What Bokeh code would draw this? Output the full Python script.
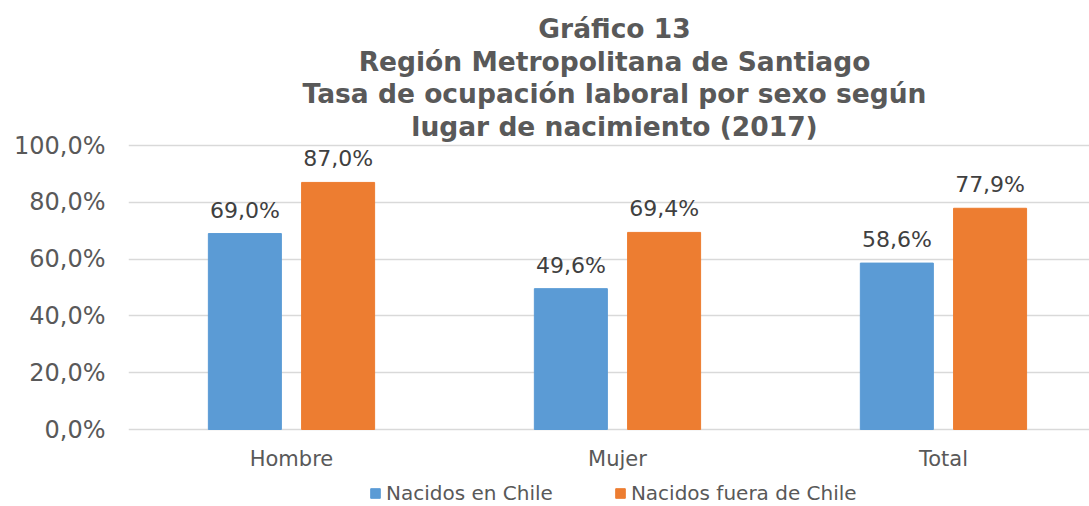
from bokeh.plotting import figure
from bokeh.models import ColumnDataSource, FixedTicker, Legend, LegendItem, Label, Range1d
from bokeh.transform import dodge
from bokeh.embed import file_html
from bokeh.resources import INLINE
from bokeh.core.properties import value

categories = ["Hombre", "Mujer", "Total"]
chile = [69.0, 49.6, 58.6]
fuera = [87.0, 69.4, 77.9]
series_names = ["Nacidos en Chile", "Nacidos fuera de Chile"]
y_ticks = [0, 20, 40, 60, 80, 100]
y_tick_labels = ["0,0%", "20,0%", "40,0%", "60,0%", "80,0%", "100,0%"]
title_lines = ["Gráfico 13", "Región Metropolitana de Santiago",
               "Tasa de ocupación laboral por sexo según", "lugar de nacimiento (2017)"]

BLUE = "#5B9BD5"
ORANGE = "#ED7D31"
FONT = "DejaVu Sans"


def fmt(v):
    return f"{v:.1f}".replace(".", ",") + "%"


xpos = [i + 0.5 for i in range(len(categories))]
source = ColumnDataSource(dict(
    x=xpos,
    chile=chile,
    fuera=fuera,
    chile_lab=[fmt(v) for v in chile],
    fuera_lab=[fmt(v) for v in fuera],
))

# The plotting frame spans the full height so that title and legend can sit in it;
# the y range extends beyond 0-100 to leave room for them.
p = figure(frame_width=961, frame_height=506, output_backend="svg", toolbar_location=None,
           x_range=Range1d(0, 2.948), y_range=Range1d(-27.11, 151.06),
           min_border_left=128, min_border_right=0, min_border_top=0, min_border_bottom=0)
p.outline_line_color = None
p.background_fill_color = "white"
p.border_fill_color = "white"

# title (multi-line, centred above the plot area)
for i, line in enumerate(title_lines):
    p.add_layout(Label(x=486, y=478 - 32.5 * i, x_units="screen", y_units="screen",
                       text=line, text_align="center", text_baseline="middle",
                       text_font=FONT, text_font_size="26.5px", text_font_style="bold",
                       text_color="#595959"))

off = 0.143
bw = 0.224
r1 = p.vbar(x=dodge("x", -off), top="chile", width=bw, source=source,
            fill_color=BLUE, line_color=BLUE)
r2 = p.vbar(x=dodge("x", off), top="fuera", width=bw, source=source,
            fill_color=ORANGE, line_color=ORANGE)

for col, lab, dx in (("chile", "chile_lab", -off), ("fuera", "fuera_lab", off)):
    p.text(x=dodge("x", dx), y=col, text=lab, source=source, text_align="center",
           text_baseline="middle", y_offset=-23.5, text_font=value(FONT),
           text_font_size="22px", text_color="#404040")

# axes
p.xaxis.fixed_location = 0
p.xaxis.ticker = FixedTicker(ticks=xpos)
p.xaxis.major_label_overrides = {x: c for x, c in zip(xpos, categories)}
p.xaxis.axis_line_color = None
p.xaxis.major_tick_line_color = None
p.xaxis.minor_tick_line_color = None
p.xaxis.major_tick_out = 0
p.xaxis.major_tick_in = 0
p.xaxis.major_label_standoff = 17
p.xaxis.major_label_text_font = FONT
p.xaxis.major_label_text_font_size = "21px"
p.xaxis.major_label_text_color = "#595959"

p.yaxis.ticker = FixedTicker(ticks=y_ticks)
p.yaxis.major_label_overrides = {t: l for t, l in zip(y_ticks, y_tick_labels)}
p.yaxis.axis_line_color = None
p.yaxis.major_tick_line_color = None
p.yaxis.minor_tick_line_color = None
p.yaxis.major_tick_out = 0
p.yaxis.major_tick_in = 0
p.yaxis.major_label_standoff = 23
p.yaxis.major_label_text_font = FONT
p.yaxis.major_label_text_font_size = "24px"
p.yaxis.major_label_text_color = "#595959"

p.xgrid.grid_line_color = None
p.ygrid.ticker = FixedTicker(ticks=y_ticks)
p.ygrid.grid_line_color = "#D9D9D9"
p.ygrid.grid_line_width = 1.5

legend = Legend(items=[LegendItem(label=series_names[0], renderers=[r1]),
                       LegendItem(label=series_names[1], renderers=[r2])],
                orientation="horizontal", location=(241, 1),
                glyph_width=12, glyph_height=12, label_standoff=5, spacing=61,
                padding=0, margin=0, border_line_color=None, background_fill_alpha=0,
                label_text_font=FONT, label_text_font_size="20px",
                label_text_color="#595959")
p.add_layout(legend)

open("out.html", "w").write(file_html(p, INLINE))
